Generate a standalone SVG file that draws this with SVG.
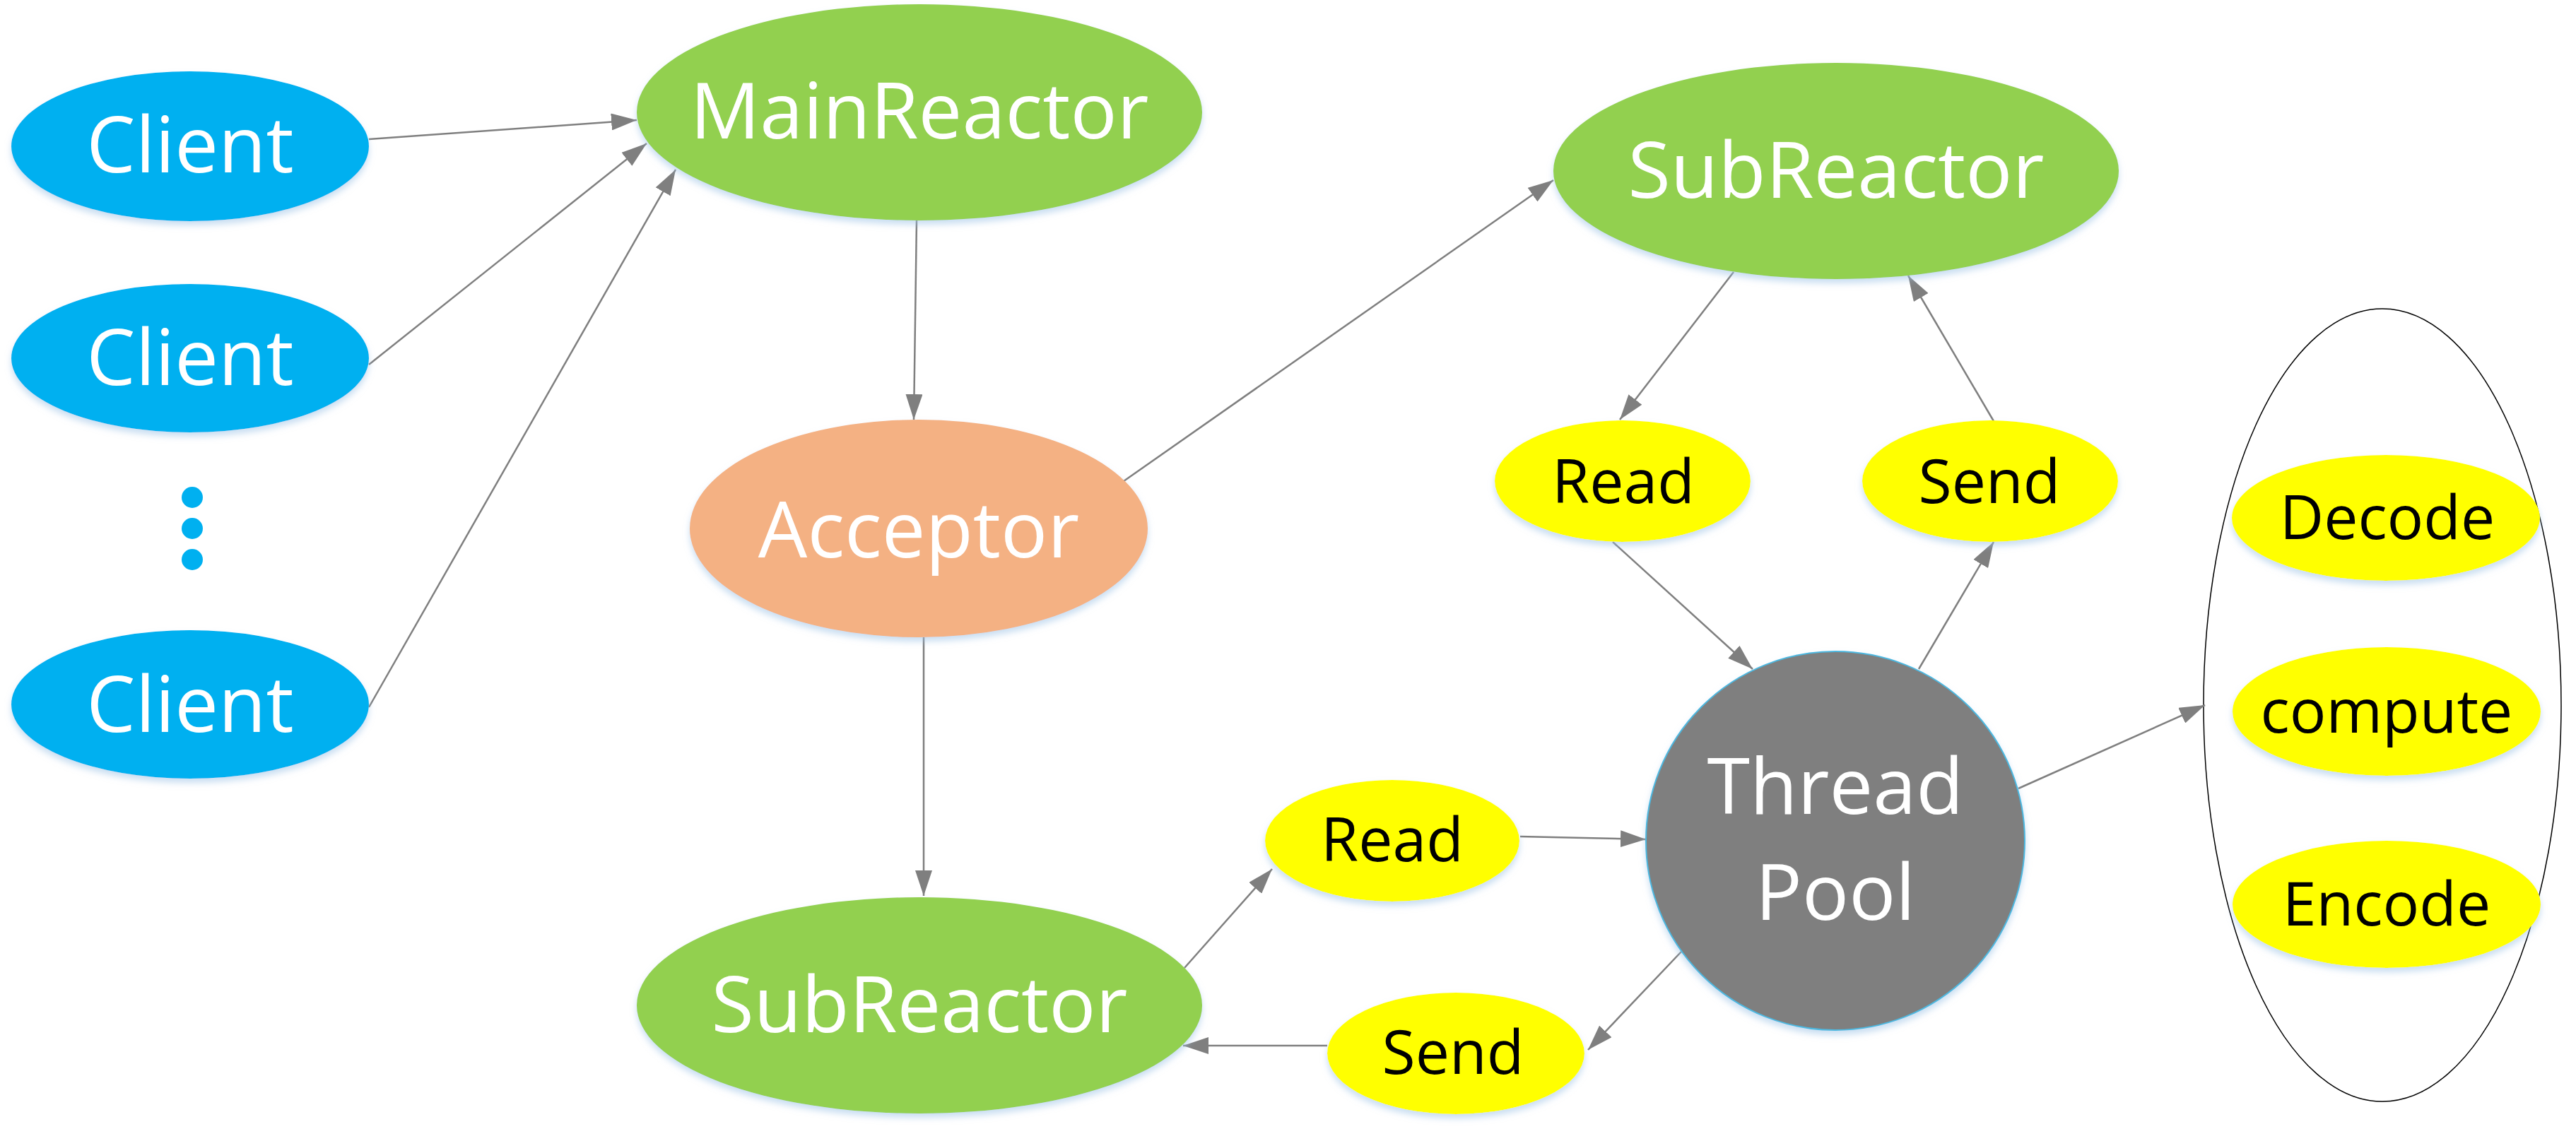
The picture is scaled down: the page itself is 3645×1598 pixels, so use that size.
<svg xmlns="http://www.w3.org/2000/svg" width="3645" height="1598" viewBox="0 0 3645 1598">
<style>
.w{font-family:"Open Sans","Noto Sans","DejaVu Sans",sans-serif;font-size:110px;fill:#fff;text-anchor:middle}
.b{font-family:"Open Sans","Noto Sans","DejaVu Sans",sans-serif;font-size:86px;fill:#000;text-anchor:middle}
.cl{fill:#00B0F0}
.gr{fill:#92D050}
.ac{fill:#F4B183}
.ye{fill:#FFFF00}
.tp{fill:#7F7F7F;stroke:#4DB8E0;stroke-width:2}
.sh{filter:url(#sh)}
#edges line{stroke:#7F7F7F;stroke-width:2.5;marker-end:url(#ah)}
</style>
<defs>
<filter id="sh" x="-10%" y="-10%" width="120%" height="130%">
<feDropShadow dx="0" dy="6" stdDeviation="5" flood-color="#9DC3E6" flood-opacity="0.55"/>
</filter>
<marker id="ah" markerUnits="userSpaceOnUse" markerWidth="38" markerHeight="24" refX="36" refY="12" orient="auto">
<path d="M0,0 L36,12 L0,24 z" fill="#7F7F7F"/>
</marker>
</defs>
<rect width="3645" height="1598" fill="#fff"/>
<g id="group-outline"><ellipse cx="3371" cy="998" rx="253" ry="561" fill="none" stroke="#000" stroke-width="1.5"/></g>
<g id="edges">
<line x1="522" y1="197" x2="901" y2="170"/>
<line x1="522" y1="516" x2="915" y2="203"/>
<line x1="522" y1="1001" x2="956" y2="240"/>
<line x1="1297" y1="312" x2="1293" y2="594"/>
<line x1="1590" y1="681" x2="2198" y2="255"/>
<line x1="1307" y1="902" x2="1307" y2="1268"/>
<line x1="1676" y1="1370" x2="1800" y2="1230"/>
<line x1="2151" y1="1184" x2="2329" y2="1188"/>
<line x1="2379" y1="1347" x2="2247" y2="1486"/>
<line x1="1878" y1="1480" x2="1674" y2="1480"/>
<line x1="2453" y1="385" x2="2292" y2="594"/>
<line x1="2282" y1="767" x2="2480" y2="947"/>
<line x1="2715" y1="947" x2="2821" y2="767"/>
<line x1="2821" y1="596" x2="2700" y2="390"/>
<line x1="2856" y1="1116" x2="3120" y2="998"/>
</g>
<g id="client1"><ellipse class="cl sh" cx="269" cy="207" rx="253" ry="106"/><text class="w" x="269" y="244">Client</text></g>
<g id="client2"><ellipse class="cl sh" cx="269" cy="507" rx="253" ry="105"/><text class="w" x="269" y="545">Client</text></g>
<g id="dots"><circle class="cl" cx="272" cy="704" r="15"/><circle class="cl" cx="272" cy="748" r="15"/><circle class="cl" cx="272" cy="792" r="15"/></g>
<g id="client3"><ellipse class="cl sh" cx="269" cy="997" rx="253" ry="105"/><text class="w" x="269" y="1036">Client</text></g>
<g id="mainreactor"><ellipse class="gr sh" cx="1301" cy="159" rx="400" ry="153"/><text class="w" x="1301" y="196">MainReactor</text></g>
<g id="acceptor"><ellipse class="ac sh" cx="1300" cy="748" rx="324" ry="154"/><text class="w" x="1300" y="789">Acceptor</text></g>
<g id="subreactor-bottom"><ellipse class="gr sh" cx="1301" cy="1423" rx="400" ry="153"/><text class="w" x="1301" y="1461">SubReactor</text></g>
<g id="subreactor-top"><ellipse class="gr sh" cx="2598" cy="242" rx="400" ry="153"/><text class="w" x="2598" y="280">SubReactor</text></g>
<g id="read-top"><ellipse class="ye sh" cx="2296" cy="681" rx="181" ry="86"/><text class="b" x="2297" y="712">Read</text></g>
<g id="send-top"><ellipse class="ye sh" cx="2816" cy="681" rx="181" ry="86"/><text class="b" x="2815" y="712">Send</text></g>
<g id="threadpool"><circle class="tp sh" cx="2597" cy="1190" r="268"/><text class="w" x="2597" y="1152">Thread</text><text class="w" x="2597" y="1302">Pool</text></g>
<g id="read-bottom"><ellipse class="ye sh" cx="1970" cy="1190" rx="180" ry="86"/><text class="b" x="1970" y="1219">Read</text></g>
<g id="send-bottom"><ellipse class="ye sh" cx="2060" cy="1491" rx="182" ry="86"/><text class="b" x="2056" y="1520">Send</text></g>
<g id="decode"><ellipse class="ye sh" cx="3376" cy="733" rx="218" ry="89"/><text class="b" x="3378" y="763">Decode</text></g>
<g id="compute"><ellipse class="ye sh" cx="3377" cy="1007" rx="218" ry="91"/><text class="b" x="3377" y="1037">compute</text></g>
<g id="encode"><ellipse class="ye sh" cx="3377" cy="1280" rx="218" ry="90"/><text class="b" x="3377" y="1310">Encode</text></g>
</svg>
